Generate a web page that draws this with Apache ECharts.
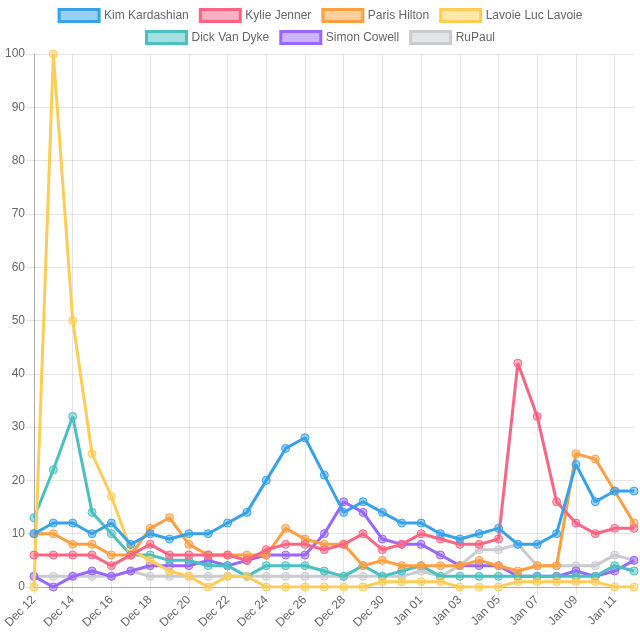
<!DOCTYPE html>
<html>
<head>
<meta charset="utf-8">
<script src="https://cdn.jsdelivr.net/npm/echarts@6/dist/echarts.min.js"></script>
<style>
html,body{margin:0;padding:0;background:#fff;}
#chart{width:640px;height:640px;}
</style>
</head>
<body>
<div id="chart"></div>
<script>
var dates = ['Dec 12','Dec 13','Dec 14','Dec 15','Dec 16','Dec 17','Dec 18','Dec 19','Dec 20','Dec 21',
  'Dec 22','Dec 23','Dec 24','Dec 25','Dec 26','Dec 27','Dec 28','Dec 29','Dec 30','Dec 31',
  'Jan 01','Jan 02','Jan 03','Jan 04','Jan 05','Jan 06','Jan 07','Jan 08','Jan 09','Jan 10','Jan 11','Jan 12'];

var kimKardashian = [10,12,12,10,12,8,10,9,10,10,12,14,20,26,28,21,14,16,14,12, 12,10,9,10,11,8,8,10,23,16,18,18];
var kylieJenner   = [6,6,6,6,4,6,8,6,6,6,6,5,7,8,8,7,8,10,7,8, 10,9,8,8,9,42,32,16,12,10,11,11];
var parisHilton   = [10,10,8,8,6,6,11,13,8,6,6,6,6,11,9,8,8,4,5,4, 4,4,4,5,4,3,4,4,25,24,18,12];
var lavoie        = [0,100,50,25,17,7,5,3,2,0,2,2,0,0,0,0,0,0,1,1, 1,1,0,0,0,1,1,1,1,1,0,0];
var dickVanDyke   = [13,22,32,14,10,6,6,5,5,4,4,2,4,4,4,3,2,4,2,3, 4,2,2,2,2,2,2,2,2,2,4,3];
var simonCowell   = [2,0,2,3,2,3,4,4,4,5,4,5,6,6,6,10,16,14,9,8, 8,6,4,4,4,2,2,2,3,2,3,5];
var ruPaul        = [2,2,2,2,2,3,2,2,2,2,2,2,2,2,2,2,2,2,2,2, 3,2,4,7,7,8,4,4,4,4,6,5];

var names = ['Kim Kardashian','Kylie Jenner','Paris Hilton','Lavoie Luc Lavoie','Dick Van Dyke','Simon Cowell','RuPaul'];
var values = [kimKardashian, kylieJenner, parisHilton, lavoie, dickVanDyke, simonCowell, ruPaul];
var colors = [[54,162,235],[255,99,132],[255,159,64],[255,205,86],[75,192,192],[153,102,255],[201,203,207]];

function rgb(c){return 'rgb('+c.join(',')+')';}
function rgba(c,a){return 'rgba('+c.join(',')+','+a+')';}

var series = names.map(function(n,i){
  return {
    name:n, type:'line', data:values[i], z: 20-i,
    symbol:'circle', symbolSize:8, showSymbol:true,
    lineStyle:{color:rgb(colors[i]), width:3},
    itemStyle:{color:rgba(colors[i],0.5), borderColor:rgb(colors[i]), borderWidth:1},
    emphasis:{disabled:true}
  };
});

function legendItems(idx){
  return idx.map(function(i){
    return {name:names[i], itemStyle:{color:rgba(colors[i],0.5), borderColor:rgb(colors[i]), borderWidth:3}};
  });
}
var legendCommon = {
  icon:'rect', itemWidth:40, itemHeight:12, itemGap:10, left:'center',
  textStyle:{color:'#666', fontSize:12, fontFamily:'Liberation Sans, Arial, sans-serif'},
  selectedMode:false
};

var chart = echarts.init(document.getElementById('chart'));
chart.setOption({
  animation:false,
  legend:[
    Object.assign({}, legendCommon, {top:3, data:legendItems([0,1,2,3])}),
    Object.assign({}, legendCommon, {top:25, data:legendItems([4,5,6])})
  ],
  grid:{left:34, right:6, top:54, bottom:53, containLabel:false},
  xAxis:{
    type:'category', data:dates, boundaryGap:false,
    axisLine:{show:true, lineStyle:{color:'rgba(0,0,0,0.25)'}},
    axisTick:{show:true, interval:1, length:8, lineStyle:{color:'rgba(0,0,0,0.1)'}},
    splitLine:{show:true, interval:1, lineStyle:{color:'rgba(0,0,0,0.1)'}},
    axisLabel:{interval:1, rotate:45, color:'#666', fontSize:12, margin:11, fontFamily:'Liberation Sans, Arial, sans-serif'}
  },
  yAxis:{
    type:'value', min:0, max:100, interval:10,
    axisLine:{show:true, lineStyle:{color:'rgba(0,0,0,0.25)'}},
    axisTick:{show:true, length:8, lineStyle:{color:'rgba(0,0,0,0.1)'}},
    splitLine:{show:true, lineStyle:{color:'rgba(0,0,0,0.1)'}},
    axisLabel:{color:'#666', fontSize:12, margin:9, fontFamily:'Liberation Sans, Arial, sans-serif'}
  },
  series:series
});
</script>
</body>
</html>
